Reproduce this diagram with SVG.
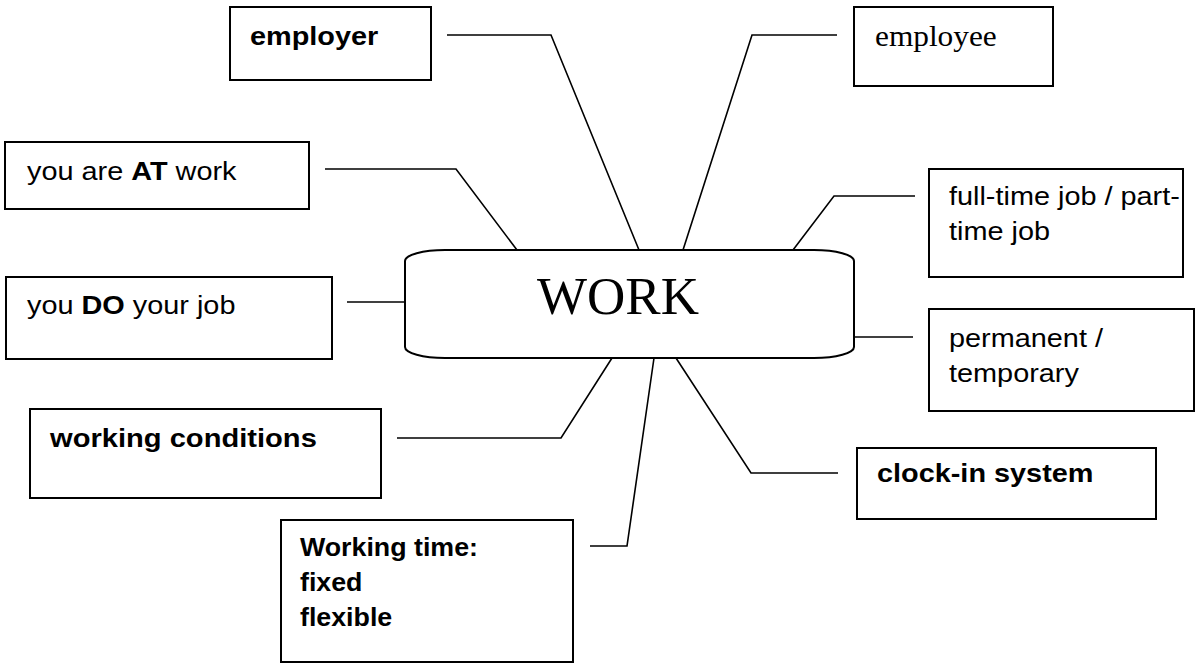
<svg xmlns="http://www.w3.org/2000/svg" width="1196" height="666" viewBox="0 0 1196 666">
  <style>
    .box { fill: #ffffff; stroke: #000000; stroke-width: 2; }
    .hub { fill: #ffffff; stroke: #000000; stroke-width: 2; }
    .link { fill: none; stroke: #000000; stroke-width: 1.6; stroke-linejoin: miter; }
    .sans { font-family: "Liberation Sans", Arial, sans-serif; font-size: 26px; fill: #000000; }
    .serif { font-family: "Liberation Serif", "Times New Roman", serif; fill: #000000; }
    .b { font-weight: bold; }
  </style>
  <rect width="1196" height="666" fill="#ffffff"/>

  <!-- spokes from the central WORK node -->
  <g id="connectors">
    <polyline class="link" points="447,35 551,35 639,250"/>
    <polyline class="link" points="837,35 752,35 683,250"/>
    <polyline class="link" points="325,169 456,169 517,250"/>
    <polyline class="link" points="347,302 405,302"/>
    <polyline class="link" points="915,196 834,196 793,250"/>
    <polyline class="link" points="854,337 913,337"/>
    <polyline class="link" points="397,438 561,438 612,358"/>
    <polyline class="link" points="590,546 627,546 654,358"/>
    <polyline class="link" points="838,473 751,473 676,358"/>
  </g>

  <g id="work">
    <path class="hub" d="M445,250 H814 A40,11 0 0 1 854,261 V347 A40,11 0 0 1 814,358 H445 A40,11 0 0 1 405,347 V261 A40,11 0 0 1 445,250 Z"/>
    <text class="serif" x="537" y="314" font-size="53">WORK</text>
  </g>

  <g id="employer">
    <rect class="box" x="230" y="7" width="201" height="73"/>
    <text class="sans b" transform="translate(250 45) scale(1.11 1)">employer</text>
  </g>

  <g id="employee">
    <rect class="box" x="854" y="7" width="199" height="79"/>
    <text class="serif" font-size="29" transform="translate(875 46) scale(1.08 1)">employee</text>
  </g>

  <g id="at-work">
    <rect class="box" x="5" y="142" width="304" height="67"/>
    <text class="sans" transform="translate(27 180) scale(1.11 1)">you are <tspan class="b">AT</tspan> work</text>
  </g>

  <g id="do-job">
    <rect class="box" x="6" y="277" width="326" height="82"/>
    <text class="sans" transform="translate(27 314) scale(1.11 1)">you <tspan class="b">DO</tspan> your job</text>
  </g>

  <g id="full-part-time">
    <rect class="box" x="929" y="169" width="254" height="108"/>
    <text class="sans" transform="translate(949 205) scale(1.11 1)">full-time job / part-</text>
    <text class="sans" transform="translate(949 240) scale(1.11 1)">time job</text>
  </g>

  <g id="permanent-temporary">
    <rect class="box" x="929" y="309" width="265" height="102"/>
    <text class="sans" transform="translate(949 347) scale(1.11 1)">permanent /</text>
    <text class="sans" transform="translate(949 382) scale(1.11 1)">temporary</text>
  </g>

  <g id="working-conditions">
    <rect class="box" x="30" y="409" width="351" height="89"/>
    <text class="sans b" transform="translate(50 447) scale(1.12 1)">working conditions</text>
  </g>

  <g id="clock-in">
    <rect class="box" x="857" y="448" width="299" height="71"/>
    <text class="sans b" transform="translate(877 482) scale(1.11 1)">clock-in system</text>
  </g>

  <g id="working-time">
    <rect class="box" x="281" y="520" width="292" height="142"/>
    <text class="sans b" transform="translate(300 556) scale(1.03 1)">Working time:</text>
    <text class="sans b" transform="translate(300 591) scale(1.03 1)">fixed</text>
    <text class="sans b" transform="translate(300 626) scale(1.03 1)">flexible</text>
  </g>
</svg>
